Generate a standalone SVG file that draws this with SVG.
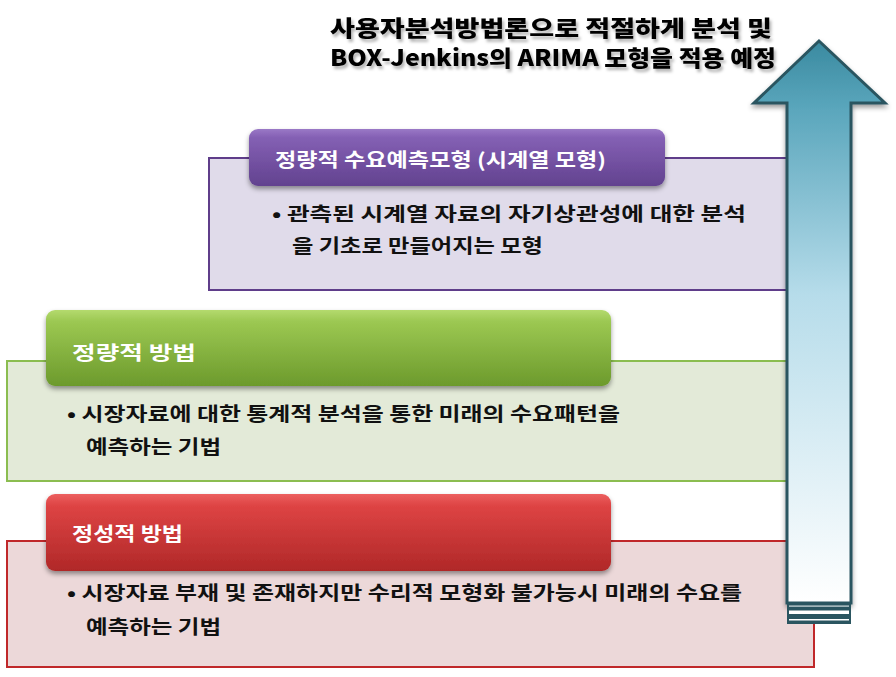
<svg xmlns="http://www.w3.org/2000/svg" width="896" height="677" viewBox="0 0 896 677">
<defs>
<style>
.t{font-family:"Noto Sans CJK KR","Noto Sans",sans-serif;font-weight:bold}
.lab{fill:#ffffff;font-size:19px}
.body{fill:#111111;font-size:19px}
.title{fill:#000000;font-size:22px;font-weight:900}
</style>
<linearGradient id="gP" x1="0" y1="0" x2="0" y2="1">
<stop offset="0" stop-color="#9a78c6"/><stop offset="0.15" stop-color="#8460b4"/><stop offset="1" stop-color="#62428f"/>
</linearGradient>
<linearGradient id="gG" x1="0" y1="0" x2="0" y2="1">
<stop offset="0" stop-color="#b4da6e"/><stop offset="0.15" stop-color="#9cc852"/><stop offset="1" stop-color="#6c9a2c"/>
</linearGradient>
<linearGradient id="gR" x1="0" y1="0" x2="0" y2="1">
<stop offset="0" stop-color="#ec6060"/><stop offset="0.15" stop-color="#de4444"/><stop offset="1" stop-color="#b02828"/>
</linearGradient>
<linearGradient id="gA" x1="0" y1="0" x2="0" y2="1">
<stop offset="0" stop-color="#3a8aa0"/><stop offset="0.12" stop-color="#5aa6bc"/><stop offset="0.45" stop-color="#b6dcea"/><stop offset="1" stop-color="#ffffff"/>
</linearGradient>
<filter id="sh" x="-5%" y="-20%" width="110%" height="150%">
<feDropShadow dx="0" dy="3" stdDeviation="2.5" flood-color="#000" flood-opacity="0.4"/>
</filter>
<filter id="tsh" x="-5%" y="-20%" width="110%" height="150%">
<feDropShadow dx="2" dy="3" stdDeviation="1.5" flood-color="#000" flood-opacity="0.3"/>
</filter>
</defs>
<rect width="896" height="677" fill="#ffffff"/>

<g id="title">
<text class="t title" x="330" y="36" textLength="442" lengthAdjust="spacingAndGlyphs" filter="url(#tsh)">사용자분석방법론으로 적절하게 분석 및</text>
<text class="t title" x="330" y="66" textLength="446" lengthAdjust="spacingAndGlyphs" filter="url(#tsh)">BOX-Jenkins의 ARIMA 모형을 적용 예정</text>
</g>

<g id="node-qualitative">
<rect x="7" y="541" width="807" height="126" fill="#ecd8d9" stroke="#c0282a" stroke-width="2"/>
<rect x="46" y="494" width="565" height="77" rx="9" fill="url(#gR)" filter="url(#sh)"/>
<text class="t lab" x="72" y="541" textLength="111" lengthAdjust="spacingAndGlyphs">정성적 방법</text>
<text class="t body" x="67" y="600" textLength="675" lengthAdjust="spacingAndGlyphs">• 시장자료 부재 및 존재하지만 수리적 모형화 불가능시 미래의 수요를</text>
<text class="t body" x="86" y="634" textLength="135" lengthAdjust="spacingAndGlyphs">예측하는 기법</text>
</g>

<g id="node-quantitative">
<rect x="7" y="361" width="780" height="120" fill="#e3ead8" stroke="#8bbd50" stroke-width="2"/>
<rect x="46" y="310" width="565" height="76" rx="9" fill="url(#gG)" filter="url(#sh)"/>
<text class="t lab" x="72" y="360" textLength="124" lengthAdjust="spacingAndGlyphs">정량적 방법</text>
<text class="t body" x="67" y="421" textLength="553" lengthAdjust="spacingAndGlyphs">• 시장자료에 대한 통계적 분석을 통한 미래의 수요패턴을</text>
<text class="t body" x="86" y="454" textLength="135" lengthAdjust="spacingAndGlyphs">예측하는 기법</text>
</g>

<g id="node-timeseries">
<rect x="209" y="158" width="578" height="132" fill="#e0dbea" stroke="#5f3d8a" stroke-width="2"/>
<rect x="249" y="129" width="416" height="57" rx="9" fill="url(#gP)" filter="url(#sh)"/>
<text class="t lab" x="275" y="167" textLength="331" lengthAdjust="spacingAndGlyphs">정량적 수요예측모형 (시계열 모형)</text>
<text class="t body" x="272" y="221" textLength="474" lengthAdjust="spacingAndGlyphs">• 관측된 시계열 자료의 자기상관성에 대한 분석</text>
<text class="t body" x="292" y="253" textLength="251" lengthAdjust="spacingAndGlyphs">을 기초로 만들어지는 모형</text>
</g>

<g id="arrow">
<path d="M819 41 L885 103 L851 103 L851 603 L787 603 L787 103 L754 103 Z" fill="url(#gA)" stroke="#2a5560" stroke-width="3" stroke-linejoin="miter" filter="url(#sh)"/>
<rect x="787" y="603" width="64" height="21" fill="#2a5560"/>
<rect x="789" y="605.5" width="60" height="1.2" fill="#ffffff" opacity="0.8"/>
<rect x="789" y="610.5" width="60" height="3.5" fill="#ffffff"/>
<rect x="789" y="619" width="60" height="1.5" fill="#ffffff"/>
</g>
</svg>
